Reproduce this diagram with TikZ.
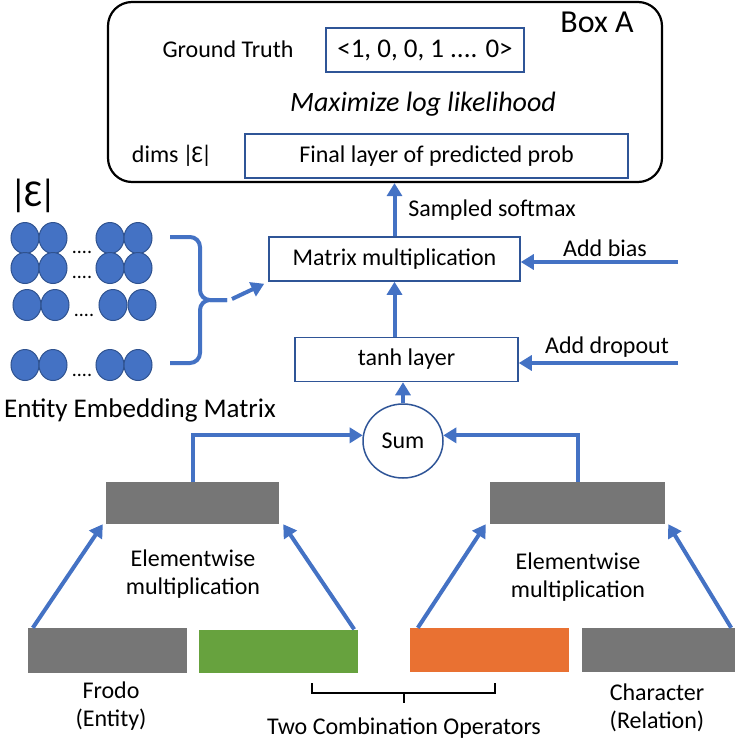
\documentclass[tikz,border=0pt]{standalone}
\usepackage{fontspec}
\setmainfont{Carlito}
\usetikzlibrary{arrows.meta,shapes.geometric}
\definecolor{ablue}{HTML}{4472C4}
\definecolor{boxblue}{HTML}{2F5597}
\definecolor{eborder}{HTML}{2F528F}
\definecolor{vgray}{HTML}{767676}
\definecolor{vgreen}{HTML}{67A23E}
\definecolor{vorange}{HTML}{E97132}
\begin{document}
\begin{tikzpicture}[x=1pt,y=-1pt,
  lbl/.style={font=\fontsize{24}{28}\selectfont, inner sep=0pt, align=center},
  bx/.style={lbl, draw=boxblue, line width=1.5pt, minimum height=44pt},
  flow/.style={draw=ablue, line width=4pt, -{Triangle[length=13pt,width=15pt]}},
  emb/.style={ellipse, draw=eborder, line width=1pt, fill=ablue, minimum width=28pt, minimum height=31pt, inner sep=0pt},
  vec/.style={minimum height=44pt, inner sep=0pt}]
\useasboundingbox (0,0) rectangle (735,742);
\node[draw, rounded corners=24pt, line width=2.2pt, minimum width=554pt, minimum height=180pt] (boxa) at (385,92){};
\node[lbl, font=\fontsize{32}{36}\selectfont] (boxlbl) at (597,22){Box A};
\node[lbl] (gt) at (228,49){Ground Truth};
\node[bx, minimum width=198pt, font=\fontsize{27}{30}\selectfont] (gtvec) at (425,50){<1, 0, 0, 1 .... 0>};
\node[lbl, font=\fontsize{28}{32}\selectfont\itshape] (mll) at (423,104){Maximize log likelihood};
\node[lbl] (dims) at (172,156){dims\,|\kern-2ptƐ\kern-2pt|};
\node[bx, minimum width=383pt] (final) at (436.5,156){Final layer of predicted prob};
\node[bx, minimum width=251pt] (mm) at (394.5,259){Matrix multiplication};
\node[bx, minimum width=223pt] (tanh) at (406.5,359.5){tanh layer};
\node[lbl, ellipse, draw=boxblue, line width=1.5pt, minimum width=80pt, minimum height=74pt] (sum) at (403,441){Sum};
\draw[flow] (mm.north) -- (mm.north |- boxa.south);
\node[lbl] (smax) at (492,210){Sampled softmax};
\draw[flow] (mm.south |- tanh.north) -- (mm.south);
\draw[flow] (sum.north) -- (sum.north |- tanh.south);
\coordinate (biasin) at (678,262);
\draw[flow] (biasin) -- (biasin -| mm.east);
\node[lbl] (bias) at (605,248){Add bias};
\coordinate (dropin) at (678,363);
\draw[flow] (dropin) -- (dropin -| tanh.east);
\node[lbl] (drop) at (607,347){Add dropout};
\node[vec, fill=vgray, minimum width=173pt, minimum height=42pt] (ew1) at (192.5,503){};
\node[vec, fill=vgray, minimum width=175pt, minimum height=42pt] (ew2) at (577.5,503){};
\draw[flow] (ew1.north) |- (sum.172);
\draw[flow] (ew2.north) |- (sum.8);
\node[lbl] (ewl1) at (193,574){Elementwise\\multiplication};
\node[lbl] (ewl2) at (578,577){Elementwise\\multiplication};
\node[vec, fill=vgray, minimum width=159pt, minimum height=45pt] (frodo) at (107.5,650.5){};
\node[vec, fill=vgreen, minimum width=159pt, minimum height=43pt] (op1) at (278.5,651){};
\node[vec, fill=vorange, minimum width=159pt, minimum height=44pt] (op2) at (489.5,650){};
\node[vec, fill=vgray, minimum width=153pt, minimum height=44pt] (rel) at (658.5,650){};
\draw[flow] ([xshift=5pt]frodo.north west) -- ([xshift=-3pt]ew1.south west);
\draw[flow] ([xshift=-4pt]op1.north east) -- ([xshift=4pt]ew1.south east);
\draw[flow] ([xshift=8pt]op2.north west) -- ([xshift=-4pt]ew2.south west);
\draw[flow] ([xshift=-4pt]rel.north east) -- ([xshift=3pt]ew2.south east);
\node[lbl] (frodolbl) at (111,706){Frodo\\(Entity)};
\node[lbl] (rellbl) at (657,708){Character\\(Relation)};
\draw[line width=1.5pt] (312,683) -- (312,693) -- (495,693) -- (495,683);
\draw[line width=1.5pt] (404,693) -- (404,703);
\node[lbl] (ops) at (404,728){Two Combination Operators};
\node[lbl, font=\fontsize{38}{42}\selectfont] (card) at (33,196){|\kern-3ptƐ\kern-3pt|};
\node[emb] (e11) at (25,238){};
\node[emb] (e12) at (53,238){};
\node[emb] (e13) at (110,238){};
\node[emb] (e14) at (138,238){};
\node[emb] (e21) at (25,268){};
\node[emb] (e22) at (53,268){};
\node[emb] (e23) at (110,268){};
\node[emb] (e24) at (138,268){};
\node[emb] (e31) at (27,305){};
\node[emb] (e32) at (55,305){};
\node[emb] (e33) at (113,305){};
\node[emb] (e34) at (142,305){};
\node[emb] (e41) at (25,365){};
\node[emb] (e42) at (53,365){};
\node[emb] (e43) at (110,365){};
\node[emb] (e44) at (138,365){};
\node[lbl, font=\fontsize{20}{24}\selectfont] (d1) at (82,252){....};
\node[lbl, font=\fontsize{20}{24}\selectfont] (d2) at (82,277){....};
\node[lbl, font=\fontsize{20}{24}\selectfont] (d3) at (84,315){....};
\node[lbl, font=\fontsize{20}{24}\selectfont] (d4) at (82,375){....};
\node[lbl, font=\fontsize{27}{30}\selectfont] (embl) at (140,410){Entity Embedding Matrix};
\draw[ablue, line width=4pt, rounded corners=10pt] (170,237) -- (200,237) -- (200,300) -- (227,300);
\draw[ablue, line width=4pt, rounded corners=10pt] (170,363) -- (200,363) -- (200,300) -- (227,300);
\coordinate (bracetip) at (232,299);
\draw[flow] (bracetip) -- ([xshift=-4pt,yshift=-2pt]mm.south west);
\end{tikzpicture}
\end{document}
